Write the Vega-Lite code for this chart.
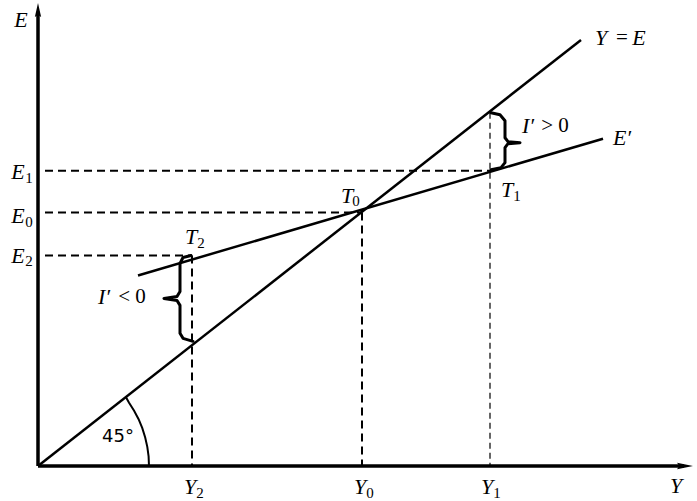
{
  "$schema": "https://vega.github.io/schema/vega-lite/v6.json",
  "width": 697,
  "height": 501,
  "autosize": {"type": "fit", "contains": "padding"},
  "padding": 0,
  "background": "white",
  "config": {"view": {"stroke": null}},
  "encoding": {
    "x": {"field": "x", "type": "quantitative", "scale": {"domain": [-38, 659], "nice": false, "zero": false}, "axis": null},
    "y": {"field": "y", "type": "quantitative", "scale": {"domain": [-34, 467], "nice": false, "zero": false}, "axis": null}
  },
  "layer": [
    {
      "data": {"values": [
        {"id": "ax", "o": 0, "x": 0, "y": 0}, {"id": "ax", "o": 1, "x": 0, "y": 455},
        {"id": "ay", "o": 0, "x": 0, "y": 0}, {"id": "ay", "o": 1, "x": 646, "y": 0}
      ]},
      "mark": {"type": "line", "color": "black", "strokeWidth": 3.5},
      "encoding": {"detail": {"field": "id"}, "order": {"field": "o"}}
    },
    {
      "data": {"values": [
        {"id": "l45", "o": 0, "x": 0, "y": 0}, {"id": "l45", "o": 1, "x": 543, "y": 427},
        {"id": "le", "o": 0, "x": 100, "y": 191}, {"id": "le", "o": 1, "x": 565, "y": 328}
      ]},
      "mark": {"type": "line", "color": "black", "strokeWidth": 2.5},
      "encoding": {"detail": {"field": "id"}, "order": {"field": "o"}}
    },
    {
      "data": {"values": [
        {"id": "e1", "o": 0, "x": 7, "y": 296}, {"id": "e1", "o": 1, "x": 452, "y": 296},
        {"id": "e0", "o": 0, "x": 7, "y": 254}, {"id": "e0", "o": 1, "x": 324, "y": 254},
        {"id": "e2", "o": 0, "x": 7, "y": 211}, {"id": "e2", "o": 1, "x": 154, "y": 211},
        {"id": "y2", "o": 0, "x": 154, "y": 211}, {"id": "y2", "o": 1, "x": 154, "y": 0},
        {"id": "y0", "o": 0, "x": 324, "y": 254}, {"id": "y0", "o": 1, "x": 324, "y": 0}
      ]},
      "mark": {"type": "line", "color": "black", "strokeWidth": 2, "strokeDash": [8, 5]},
      "encoding": {"detail": {"field": "id"}, "order": {"field": "o"}}
    },
    {
      "data": {"values": [
        {"id": "y1", "o": 0, "x": 452, "y": 354}, {"id": "y1", "o": 1, "x": 452, "y": 0}
      ]},
      "mark": {"type": "line", "color": "black", "strokeWidth": 1.2, "strokeDash": [6, 4]},
      "encoding": {"detail": {"field": "id"}, "order": {"field": "o"}}
    },
    {
      "data": {"values": [
        {"id": "bl", "o": 0, "x": 153, "y": 211}, {"id": "bl", "o": 1, "x": 145, "y": 209},
        {"id": "bl", "o": 2, "x": 142, "y": 203}, {"id": "bl", "o": 3, "x": 142, "y": 175},
        {"id": "bl", "o": 4, "x": 139, "y": 170}, {"id": "bl", "o": 5, "x": 126, "y": 168},
        {"id": "bl", "o": 6, "x": 139, "y": 166}, {"id": "bl", "o": 7, "x": 142, "y": 161},
        {"id": "bl", "o": 8, "x": 142, "y": 133}, {"id": "bl", "o": 9, "x": 145, "y": 128},
        {"id": "bl", "o": 10, "x": 155, "y": 125},
        {"id": "br", "o": 0, "x": 453, "y": 354}, {"id": "br", "o": 1, "x": 462, "y": 352},
        {"id": "br", "o": 2, "x": 467, "y": 346}, {"id": "br", "o": 3, "x": 467, "y": 329},
        {"id": "br", "o": 4, "x": 470, "y": 325}, {"id": "br", "o": 5, "x": 482, "y": 324},
        {"id": "br", "o": 6, "x": 470, "y": 323}, {"id": "br", "o": 7, "x": 467, "y": 319},
        {"id": "br", "o": 8, "x": 467, "y": 304}, {"id": "br", "o": 9, "x": 463, "y": 299},
        {"id": "br", "o": 10, "x": 453, "y": 297}
      ]},
      "mark": {"type": "line", "color": "black", "strokeWidth": 3, "strokeJoin": "round", "strokeCap": "round"},
      "encoding": {"detail": {"field": "id"}, "order": {"field": "o"}}
    },
    {
      "data": {"values": [
        {"o": 0, "x": 111, "y": 0}, {"o": 1, "x": 110.6, "y": 9.7},
        {"o": 2, "x": 109.3, "y": 19.3}, {"o": 3, "x": 107.2, "y": 28.7},
        {"o": 4, "x": 104.3, "y": 38}, {"o": 5, "x": 100.6, "y": 47},
        {"o": 6, "x": 96.1, "y": 55.5}, {"o": 7, "x": 90.9, "y": 63.7},
        {"o": 8, "x": 88, "y": 69}
      ]},
      "mark": {"type": "line", "color": "black", "strokeWidth": 2},
      "encoding": {"order": {"field": "o"}}
    },
    {
      "data": {"values": [{"x": 0, "y": 457}]},
      "mark": {"type": "point", "filled": true, "color": "black", "opacity": 1, "size": 196, "shape": "M0,-1L0.45,1L0,0.7L-0.45,1Z"}
    },
    {
      "data": {"values": [{"x": 647, "y": 0}]},
      "mark": {"type": "point", "filled": true, "color": "black", "opacity": 1, "size": 256, "shape": "M1,0L-1,-0.4L-0.7,0L-1,0.4Z"}
    },
    {
      "data": {"values": [
        {"t": "E", "x": -17, "y": 447}, {"t": "Y", "x": 638, "y": -20},
        {"t": "Y", "x": 563, "y": 429}, {"t": "E", "x": 601, "y": 429},
        {"t": "E′", "x": 584, "y": 329},
        {"t": "I′", "x": 490, "y": 341}, {"t": "I′", "x": 66, "y": 169},
        {"t": "T", "x": 309, "y": 271}, {"t": "T", "x": 469, "y": 277}, {"t": "T", "x": 153, "y": 230},
        {"t": "E", "x": -20, "y": 295}, {"t": "E", "x": -20, "y": 251}, {"t": "E", "x": -20, "y": 210},
        {"t": "Y", "x": 152, "y": -21}, {"t": "Y", "x": 322, "y": -21}, {"t": "Y", "x": 449, "y": -21}
      ]},
      "mark": {"type": "text", "font": "Liberation Serif", "fontStyle": "italic", "fontSize": 22, "color": "black", "align": "center", "baseline": "middle"},
      "encoding": {"text": {"field": "t"}}
    },
    {
      "data": {"values": [
        {"t": "1", "x": -9, "y": 289}, {"t": "0", "x": -9, "y": 245}, {"t": "2", "x": -9, "y": 205},
        {"t": "0", "x": 318, "y": 266}, {"t": "1", "x": 479, "y": 271}, {"t": "2", "x": 163, "y": 224},
        {"t": "2", "x": 162, "y": -27}, {"t": "0", "x": 332, "y": -27}, {"t": "1", "x": 459, "y": -27}
      ]},
      "mark": {"type": "text", "font": "Liberation Serif", "fontSize": 15, "color": "black", "align": "center", "baseline": "middle"},
      "encoding": {"text": {"field": "t"}}
    },
    {
      "data": {"values": [
        {"t": "=", "x": 584, "y": 429}, {"t": "> 0", "x": 517, "y": 341}, {"t": "< 0", "x": 94, "y": 169}
      ]},
      "mark": {"type": "text", "font": "Liberation Serif", "fontSize": 21, "color": "black", "align": "center", "baseline": "middle"},
      "encoding": {"text": {"field": "t"}}
    },
    {
      "data": {"values": [{"t": "45°", "x": 80, "y": 29}]},
      "mark": {"type": "text", "font": "DejaVu Sans", "fontSize": 18, "color": "black", "align": "center", "baseline": "middle"},
      "encoding": {"text": {"field": "t"}}
    }
  ]
}
